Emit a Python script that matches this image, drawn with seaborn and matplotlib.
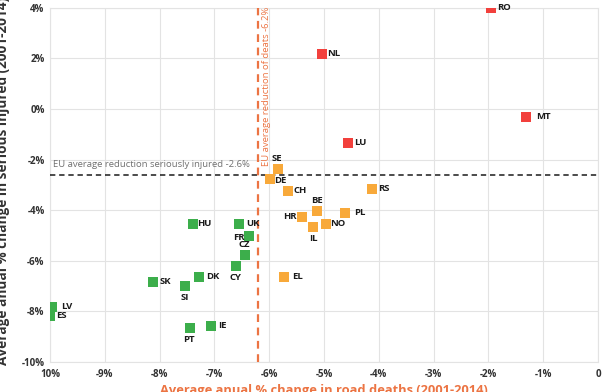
import matplotlib
matplotlib.use("Agg")
import numpy as np
import pandas as pd
import matplotlib.pyplot as plt
import seaborn as sns

# ── Data ──────────────────────────────────────────────────────────────────────
countries = ["RO", "NL", "MT", "LU",
             "SE", "DE", "CH", "RS", "BE", "PL", "HR", "NO", "IL", "EL",
             "HU", "UK", "FR", "CZ", "CY", "DK", "SK", "SI", "LV", "ES", "IE", "PT"]
deaths = [-1.95, -5.04, -1.31, -4.56,
          -5.84, -5.99, -5.66, -4.12, -5.13, -4.62, -5.40, -4.96, -5.20, -5.73,
          -7.39, -6.55, -6.37, -6.44, -6.61, -7.28, -8.12, -7.54, -9.96, -10.0, -7.06, -7.45]
injured = [4.00, 2.18, -0.31, -1.34,
           -2.36, -2.76, -3.23, -3.15, -4.02, -4.10, -4.26, -4.54, -4.66, -6.63,
           -4.54, -4.54, -5.01, -5.76, -6.20, -6.63, -6.83, -6.99, -7.82, -8.17, -8.57, -8.65]
groups = ["red"] * 4 + ["orange"] * 10 + ["green"] * 12

eu_deaths = -6.2
eu_injured = -2.6

x_ticks = [-10, -9, -8, -7, -6, -5, -4, -3, -2, -1, 0]
x_ticklabels = ["10%", "-9%", "-8%", "-7%", "-6%", "-5%", "-4%", "-3%", "-2%", "-1%", "0"]
y_ticks = [4, 2, 0, -2, -4, -6, -8, -10]
y_ticklabels = ["4%", "2%", "0%", "-2%", "-4%", "-6%", "-8%", "-10%"]

# ── Style ─────────────────────────────────────────────────────────────────────
palette = {"red": "#f2403c", "orange": "#f8a93a", "green": "#3cae4b"}
ORANGE_LINE = "#ec7443"

# label offsets (points) and alignment per country
label_pos = {
    "RO": (4, 0, "left", "center"), "NL": (4, 0, "left", "center"),
    "MT": (7, 0, "left", "center"), "LU": (4, 0, "left", "center"),
    "SE": (-1, 4, "center", "bottom"), "DE": (3, -1, "left", "center"),
    "CH": (4, 0, "left", "center"), "RS": (4, 0, "left", "center"),
    "BE": (0, 4, "center", "bottom"), "PL": (7, 0, "left", "center"),
    "HR": (-4, 0, "right", "center"), "NO": (3, 0, "left", "center"),
    "IL": (0, -5, "center", "top"), "EL": (6, 0, "left", "center"),
    "HU": (3, 0, "left", "center"), "UK": (5, 0, "left", "center"),
    "FR": (-3, -1, "right", "center"), "CZ": (-1, 4, "center", "bottom"),
    "CY": (0, -5, "center", "top"), "DK": (5, 0, "left", "center"),
    "SK": (5, 0, "left", "center"), "SI": (0, -5, "center", "top"),
    "LV": (6, 0, "left", "center"), "ES": (4, 0, "left", "center"),
    "IE": (5, 0, "left", "center"), "PT": (-1, -5, "center", "top"),
}

df = pd.DataFrame({"Country": countries, "Deaths": deaths,
                   "Injured": injured, "Group": groups})

sns.set_theme(style="whitegrid")
plt.rcParams["font.family"] = ["Open Sans", "DejaVu Sans"]

fig = plt.figure(figsize=(6.04, 3.92), dpi=100)
ax = fig.add_axes([0.083, 0.0765, 0.907, 0.9035])

sns.scatterplot(data=df, x="Deaths", y="Injured", hue="Group", palette=palette,
                marker="s", s=48, linewidth=0, legend=False, ax=ax, zorder=4)

for c, x, y in zip(countries, deaths, injured):
    dx, dy, ha, va = label_pos[c]
    ax.annotate(c, (x, y), xytext=(dx, dy), textcoords="offset points",
                ha=ha, va=va, fontsize=6.8, fontweight="bold", color="#1a1a1a",
                zorder=5)

# reference lines
ax.axhline(eu_injured, color="#1a1a1a", linestyle=(0, (3.5, 2.5)), linewidth=1.1, zorder=3)
ax.axvline(eu_deaths, color=ORANGE_LINE, linestyle=(0, (3.5, 2.5)), linewidth=1.6, zorder=3)
ax.text(-9.95, eu_injured + 0.22, f"EU average reduction seriously injured {eu_injured}%",
        fontsize=6.8, color="#707070", ha="left", va="bottom")
ax.text(eu_deaths + 0.06, 4.05, f"EU average reduction of deats {eu_deaths}%",
        rotation=90, fontsize=6.8, color=ORANGE_LINE, ha="left", va="top")

ax.set_xlim(-10, 0)
ax.set_ylim(-10, 4)
ax.set_xticks(x_ticks)
ax.set_xticklabels(x_ticklabels)
ax.set_yticks(y_ticks)
ax.set_yticklabels(y_ticklabels)
ax.tick_params(axis="both", labelsize=7, colors="#333333", length=0)
ax.tick_params(axis="x", pad=5)
ax.tick_params(axis="y", pad=4)
for lbl in ax.get_xticklabels() + ax.get_yticklabels():
    lbl.set_fontweight("bold")
ax.grid(color="#e3e3e3", linewidth=0.8)
for sp in ax.spines.values():
    sp.set_color("#e3e3e3")
    sp.set_linewidth(0.8)

# the source image crops both axis titles at the figure edge
ax.set_xlabel("Average anual % change in road deaths (2001-2014)", fontsize=9.3,
              fontweight="bold", color=ORANGE_LINE)
ax.set_ylabel("Average anual % change in serious injured (2001-2014)", fontsize=9.8,
              fontweight="bold", color="#333333")
ax.xaxis.set_label_coords(0.5, -0.062)
ax.yaxis.set_label_coords(-0.074, 0.51)

fig.savefig("out.png", dpi=100)
